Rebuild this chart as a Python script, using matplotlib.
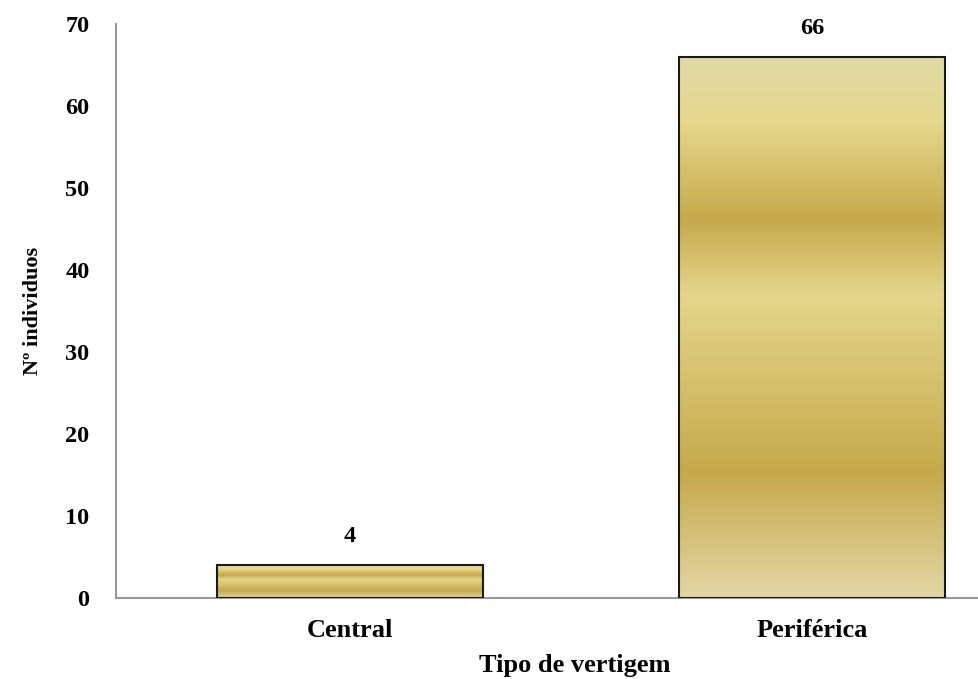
import matplotlib
matplotlib.use("Agg")
import matplotlib.pyplot as plt
import numpy as np
from matplotlib.colors import LinearSegmentedColormap

categories = ["Central", "Periférica"]
counts = [4, 66]
y_ticks = [0, 10, 20, 30, 40, 50, 60, 70]

# gold gradient (position along bar height, colour)
gold_stops = [
    (0.00, "#e1d7a5"),
    (0.23, "#c5a94c"),
    (0.56, "#e4d68b"),
    (0.70, "#c5a94c"),
    (0.88, "#e5d88c"),
    (1.00, "#e2dba8"),
]

plt.rcParams["font.family"] = ["Liberation Serif", "DejaVu Serif"]
plt.rcParams["font.weight"] = "bold"

fig = plt.figure(figsize=(9.79, 6.79), dpi=100)
ax = fig.add_axes([0.1185, 0.1193, 0.8815, 0.8454])

gold = LinearSegmentedColormap.from_list("gold", gold_stops)
x = np.arange(len(categories))
bars = ax.bar(x, counts, width=0.576, facecolor="none", edgecolor="#1a1a1a",
              linewidth=1.5, zorder=3)

grad = np.linspace(0, 1, 256).reshape(-1, 1)
for patch in bars:
    bx, by = patch.get_x(), patch.get_y()
    w, h = patch.get_width(), patch.get_height()
    im = ax.imshow(grad, cmap=gold, origin="lower", aspect="auto",
                   extent=(bx, bx + w, by, by + h), zorder=2,
                   interpolation="bilinear")
    im.set_clip_path(patch)

for xi, v in zip(x, counts):
    ax.text(xi, v + 2.2, str(v), ha="center", va="bottom", fontsize=17.5,
            fontweight="bold")

ax.set_xlim(-0.506, 1.361)
ax.set_ylim(0, 70)
ax.set_yticks(y_ticks)
ax.set_xticks(x)
ax.set_xticklabels(categories, fontsize=19, fontweight="bold")
ax.tick_params(axis="y", length=0, pad=19, labelsize=17.5)
ax.tick_params(axis="x", length=0, pad=15)

for side in ["top", "right"]:
    ax.spines[side].set_visible(False)
for side in ["left", "bottom"]:
    ax.spines[side].set_color("#999999")
    ax.spines[side].set_linewidth(1.5)

ax.set_ylabel("Nº individuos", fontsize=16, fontweight="bold", labelpad=16)
ax.set_xlabel("Tipo de vertigem", fontsize=19, fontweight="bold")
ax.xaxis.set_label_coords(0.532, -0.097)

fig.savefig("out.png", dpi=100)
